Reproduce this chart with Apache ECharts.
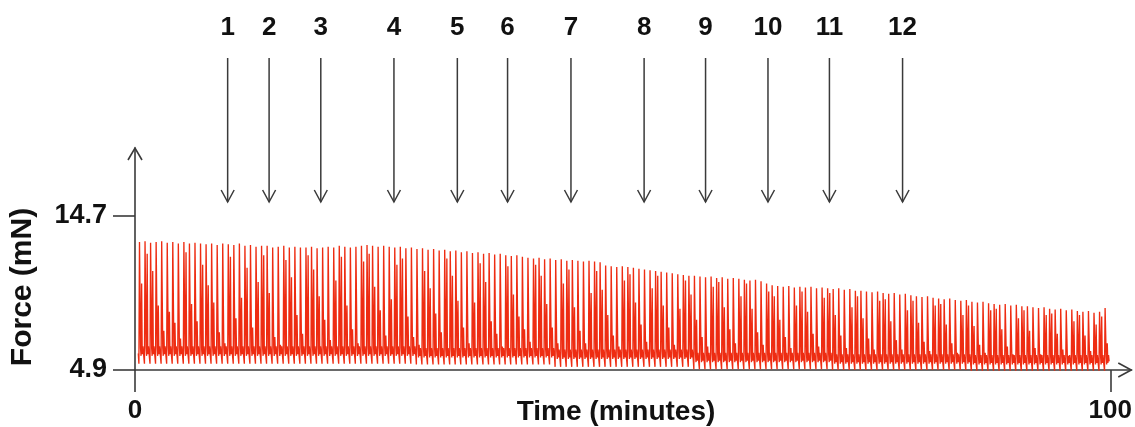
<!DOCTYPE html>
<html>
<head>
<meta charset="utf-8">
<script src="https://cdn.jsdelivr.net/npm/echarts@6/dist/echarts.min.js"></script>
<style>
  html, body { margin: 0; padding: 0; background: #ffffff; }
  #chart { width: 1135px; height: 427px; }
</style>
</head>
<body>
<div id="chart"></div>
<script>
// Peak twitch force of each beat (mN)
const peakForce = [
  13.05, 13.1, 13.0, 13.05, 13.1, 13.0, 13.05, 12.95, 13.05, 12.95,
  13.0, 12.95, 12.9, 12.95, 12.85, 12.95, 12.9, 12.85, 12.95, 12.8,
  12.85, 12.75, 12.8, 12.8, 12.7, 12.75, 12.8, 12.7, 12.75, 12.7,
  12.7, 12.75, 12.65, 12.7, 12.75, 12.7, 12.8, 12.75, 12.7, 12.75,
  12.8, 12.85, 12.8, 12.75, 12.8, 12.75, 12.7, 12.75, 12.65, 12.7,
  12.6, 12.65, 12.55, 12.6, 12.5, 12.55, 12.45, 12.5, 12.4, 12.45,
  12.35, 12.4, 12.3, 12.35, 12.25, 12.3, 12.2, 12.15, 12.2, 12.1,
  12.05, 12.0, 12.05, 11.95, 12.0, 11.9, 11.95, 11.85, 11.9, 11.85,
  11.8, 11.85, 11.8, 11.75, 11.55, 11.5, 11.45, 11.5, 11.45, 11.4,
  11.35, 11.3, 11.25, 11.2, 11.15, 11.1, 11.05, 11.0, 10.95, 10.9,
  10.9, 10.85, 10.8, 10.85, 10.75, 10.8, 10.7, 10.75, 10.7, 10.65,
  10.6, 10.65, 10.55, 10.4, 10.3, 10.25, 10.2, 10.25, 10.15, 10.2,
  10.15, 10.2, 10.1, 10.15, 10.1, 10.05, 10.1, 10.0, 10.05, 9.95,
  9.95, 9.9, 9.85, 9.9, 9.8, 9.75, 9.8, 9.7, 9.75, 9.65,
  9.6, 9.55, 9.6, 9.5, 9.45, 9.4, 9.45, 9.35, 9.3, 9.35,
  9.25, 9.2, 9.25, 9.15, 9.1, 9.05, 9.1, 9.0, 9.05, 8.95,
  8.95, 8.9, 8.85, 8.9, 8.8, 8.75, 8.8, 8.7, 8.75, 8.65,
  8.6, 8.65, 8.55, 8.6, 8.85
];

// Height of the sampled relaxation shoulder of each beat (mN)
const shoulderForce = [
  10.4, 12.3, 11.2, 9.0, 7.4, 8.6, 7.9, 6.9, 12.4, 9.1,
  8.0, 11.6, 10.3, 9.2, 7.3, 6.6, 12.1, 8.2, 9.5, 11.4,
  7.6, 10.5, 12.2, 9.8, 7.0, 6.5, 11.9, 10.8, 8.4, 7.2,
  12.2, 11.3, 9.6, 8.1, 6.8, 10.6, 12.1, 9.0, 7.5, 6.6,
  11.8, 12.3, 10.2, 8.7, 7.1, 9.4, 11.6, 12.0, 8.3, 7.0,
  6.5, 11.2, 10.1, 8.5, 7.3, 12.0, 10.9, 9.3, 7.6, 6.6,
  9.2, 11.7, 10.5, 8.0, 7.2, 6.4, 11.5, 9.7, 8.3, 7.5,
  6.7, 11.6, 10.9, 9.1, 7.6, 6.6, 10.4, 11.3, 8.9, 7.4,
  6.6, 9.8, 11.2, 10.0, 8.4, 7.1, 6.4, 10.6, 11.0, 9.2,
  7.8, 6.7, 10.1, 10.9, 9.0, 7.6, 6.5, 8.8, 10.6, 9.7,
  8.1, 7.0, 6.4, 10.2, 10.5, 8.9, 7.5, 6.6, 9.6, 10.4,
  8.8, 7.3, 6.5, 9.9, 9.6, 8.1, 7.0, 6.3, 9.0, 9.9,
  8.6, 7.2, 6.4, 9.5, 9.8, 8.4, 7.1, 6.3, 8.9, 9.6,
  8.2, 6.9, 6.2, 9.3, 9.4, 8.0, 6.8, 6.2, 8.7, 9.3,
  7.9, 6.7, 6.1, 9.0, 9.1, 7.8, 6.6, 6.0, 8.4, 9.0,
  7.7, 6.5, 6.0, 8.7, 8.8, 7.5, 6.4, 5.9, 8.2, 8.7,
  7.4, 6.3, 5.9, 8.4, 8.5, 7.2, 6.2, 5.8, 8.0, 8.4,
  7.1, 6.1, 7.8, 8.3, 6.6
];

// Resting (trough) and diastolic plateau force for each block of 25 beats (mN)
const troughBySegment  = [5.3, 5.3, 5.25, 5.1, 4.95, 4.9, 4.85];
const plateauBySegment = [6.0, 6.0, 5.9, 5.8, 5.6, 5.5, 5.45];
const BEATS_PER_SEGMENT = 25;

// Pacing: first beat and beat interval (minutes)
const FIRST_BEAT_MIN = 0.4;
const BEAT_PERIOD_MIN = 0.569;

// Interventions marked above the trace
const markerLabels = ['1', '2', '3', '4', '5', '6', '7', '8', '9', '10', '11', '12'];
const markerTimes  = [9.5, 13.75, 19.05, 26.55, 33.05, 38.2, 44.7, 52.2, 58.5, 64.9, 71.2, 78.7];

// Axis tick values
const xTickValues = [0, 100];
const yTickValues = [4.9, 14.7];

// Build the force trace, one twitch per beat
const trace = [];
for (let i = 0; i < peakForce.length; i++) {
  const t = FIRST_BEAT_MIN + i * BEAT_PERIOD_MIN;
  const seg = Math.min(Math.floor(i / BEATS_PER_SEGMENT), troughBySegment.length - 1);
  const tr = troughBySegment[seg];
  const pl = plateauBySegment[seg];
  trace.push([t - 0.06, pl - 0.05]);
  trace.push([t, tr]);
  trace.push([t + 0.06, peakForce[i]]);
  trace.push([t + 0.17, pl + 0.3]);
  trace.push([t + 0.22, pl - 0.2]);
  trace.push([t + 0.28, shoulderForce[i]]);
  trace.push([t + 0.34, pl - 0.1]);
  trace.push([t + 0.41, pl + 0.4]);
  trace.push([t + 0.47, pl]);
}

const FONT = "'Liberation Sans', Arial, sans-serif";
const AXIS_COLOR = '#3a3a3a';
const TEXT_COLOR = '#111111';

const chart = echarts.init(document.getElementById('chart'), null, { renderer: 'canvas' });

chart.setOption({
  animation: false,
  backgroundColor: '#ffffff',
  grid: { left: 135, top: 148, width: 998, height: 222, containLabel: false },
  xAxis: {
    type: 'value',
    min: 0,
    max: 102.15,
    splitLine: { show: false },
    axisLine: { show: true, onZero: false, lineStyle: { color: AXIS_COLOR, width: 1.6 } },
    axisTick: { show: true, customValues: xTickValues, length: 22, lineStyle: { color: AXIS_COLOR, width: 1.6 } },
    axisLabel: {
      show: true, customValues: xTickValues, margin: 28,
      fontFamily: FONT, fontWeight: 'bold', fontSize: 26, color: TEXT_COLOR,
      formatter: v => String(v)
    }
  },
  yAxis: {
    type: 'value',
    min: 4.9,
    max: 19.027,
    splitLine: { show: false },
    axisLine: { show: true, onZero: false, lineStyle: { color: AXIS_COLOR, width: 1.6 } },
    axisTick: { show: true, customValues: yTickValues, length: 22, lineStyle: { color: AXIS_COLOR, width: 1.6 } },
    axisLabel: {
      show: true, customValues: yTickValues, margin: 28,
      fontFamily: FONT, fontWeight: 'bold', fontSize: 27, color: TEXT_COLOR,
      formatter: v => v.toFixed(1)
    }
  },
  series: [{
    type: 'line',
    data: trace,
    showSymbol: false,
    symbol: 'none',
    sampling: null,
    clip: false,
    lineStyle: { color: '#ee2c12', width: 1.35 },
    z: 1
  }]
});

// Arrows, axis arrowheads and titles
const yTop = 58, yTip = 202, head = 6.5, headH = 12;
const graphic = [];
markerTimes.forEach((m, k) => {
  const x = chart.convertToPixel({ xAxisIndex: 0 }, m);
  graphic.push({
    type: 'line', shape: { x1: x, y1: yTop, x2: x, y2: yTip },
    style: { stroke: AXIS_COLOR, lineWidth: 1.5 }
  });
  graphic.push({
    type: 'polyline', shape: { points: [[x - head, yTip - headH], [x, yTip], [x + head, yTip - headH]] },
    style: { stroke: AXIS_COLOR, lineWidth: 1.5, fill: null }
  });
  graphic.push({
    type: 'text', x: x, y: 28,
    style: { text: markerLabels[k], x: 0, y: 0, align: 'center', verticalAlign: 'middle',
      font: 'bold 26px ' + FONT, fill: TEXT_COLOR }
  });
});

// Open arrowheads at the ends of both axes
const origin = chart.convertToPixel({ gridIndex: 0 }, [0, 4.9]);
const yEnd = chart.convertToPixel({ yAxisIndex: 0 }, 19.027);
const xEnd = chart.convertToPixel({ xAxisIndex: 0 }, 102.15);
graphic.push({
  type: 'polyline', shape: { points: [[origin[0] - 7, yEnd + 12], [origin[0], yEnd], [origin[0] + 7, yEnd + 12]] },
  style: { stroke: AXIS_COLOR, lineWidth: 1.6, fill: null }
});
graphic.push({
  type: 'polyline', shape: { points: [[xEnd - 13, origin[1] - 7], [xEnd, origin[1]], [xEnd - 13, origin[1] + 7]] },
  style: { stroke: AXIS_COLOR, lineWidth: 1.6, fill: null }
});

// Axis titles
graphic.push({
  type: 'text', x: 616, y: 412,
  style: { text: 'Time (minutes)', x: 0, y: 0, align: 'center', verticalAlign: 'middle',
    font: 'bold 28px ' + FONT, fill: TEXT_COLOR }
});
graphic.push({
  type: 'text', x: 23, y: 287, rotation: Math.PI / 2,
  style: { text: 'Force (mN)', x: 0, y: 0, align: 'center', verticalAlign: 'middle',
    font: 'bold 30px ' + FONT, fill: TEXT_COLOR }
});

chart.setOption({ graphic: graphic });
</script>
</body>
</html>
